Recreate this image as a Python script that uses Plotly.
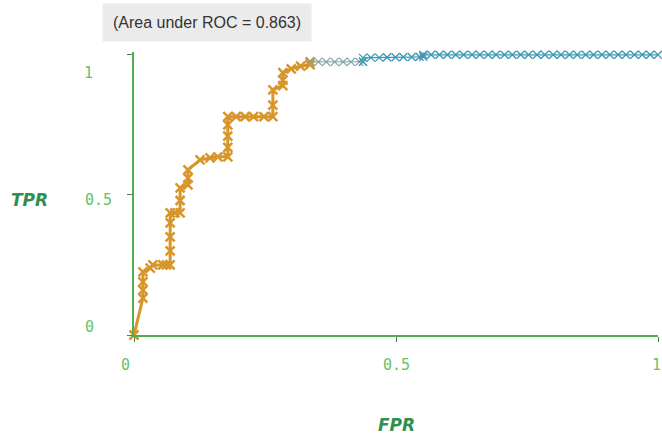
import plotly.graph_objects as go

# ROC points
fpr_low = [0, 0.017, 0.017, 0.017, 0.017, 0.031, 0.036, 0.055, 0.062, 0.069, 0.069, 0.069, 0.069,
           0.069, 0.078, 0.088, 0.088, 0.088, 0.103, 0.103, 0.103, 0.126, 0.145, 0.160, 0.179,
           0.179, 0.179, 0.179, 0.179, 0.195, 0.212, 0.228, 0.248, 0.265, 0.265, 0.265, 0.284,
           0.284, 0.284, 0.300, 0.318, 0.336, 0.336]
tpr_low = [0, 0.132, 0.16, 0.19, 0.225, 0.239, 0.25, 0.25, 0.25, 0.25, 0.30, 0.35, 0.40,
           0.436, 0.436, 0.436, 0.48, 0.525, 0.536, 0.56, 0.589, 0.625, 0.632, 0.636, 0.636,
           0.67, 0.71, 0.75, 0.779, 0.779, 0.779, 0.779, 0.779, 0.779, 0.82, 0.875, 0.89,
           0.91, 0.936, 0.95, 0.96, 0.965, 0.975]

fpr_mid = [0.336, 0.352, 0.367, 0.383, 0.399, 0.414, 0.430, 0.437]
tpr_mid = [0.975, 0.975, 0.975, 0.975, 0.975, 0.975, 0.975, 0.975]

fpr_high = [0.437, 0.437, 0.452, 0.468, 0.483, 0.499, 0.514, 0.530, 0.545, 0.552, 0.552,
            0.567, 0.583, 0.598, 0.614, 0.629, 0.645, 0.660, 0.676, 0.691, 0.707, 0.722,
            0.738, 0.753, 0.769, 0.784, 0.800, 0.815, 0.831, 0.846, 0.862, 0.877, 0.893,
            0.908, 0.924, 0.939, 0.955, 0.970, 0.985, 1.0]
tpr_high = [0.975, 0.989, 0.990, 0.990, 0.991, 0.991, 0.992, 0.992, 0.993, 0.993, 1.0,
            1.0, 1.0, 1.0, 1.0, 1.0, 1.0, 1.0, 1.0, 1.0, 1.0, 1.0,
            1.0, 1.0, 1.0, 1.0, 1.0, 1.0, 1.0, 1.0, 1.0, 1.0, 1.0,
            1.0, 1.0, 1.0, 1.0, 1.0, 1.0, 1.0]

x_ticks = [0, 0.5, 1]
x_ticktext = ["0", "0.5", "1"]
y_ticks = [0, 0.5, 1]
y_ticktext = ["0", "0.5", "1"]

title_text = "(Area under ROC = 0.863)"

ORANGE = "#d8962a"
GRAYTEAL = "#7fa2a4"
TEAL = "#3f97b3"
AXIS_GREEN = "#4fae4f"
LABEL_GREEN = "#66c266"
TITLE_GREEN = "#2f8f4f"

fig = go.Figure()
fig.add_trace(go.Scatter(x=fpr_low, y=tpr_low, mode="lines+markers",
                         line=dict(color=ORANGE, width=3),
                         marker=dict(symbol="x-thin", size=9, line=dict(color=ORANGE, width=2.5)),
                         cliponaxis=False, showlegend=False))
fig.add_trace(go.Scatter(x=fpr_mid, y=tpr_mid, mode="lines+markers",
                         line=dict(color=GRAYTEAL, width=1),
                         marker=dict(symbol="x-thin", size=8, line=dict(color=GRAYTEAL, width=1.2)),
                         cliponaxis=False, showlegend=False))
fig.add_trace(go.Scatter(x=fpr_high, y=tpr_high, mode="lines+markers",
                         line=dict(color=TEAL, width=1.2),
                         marker=dict(symbol="x-thin", size=8, line=dict(color=TEAL, width=1.3)),
                         cliponaxis=False, showlegend=False))

mono = dict(family="DejaVu Sans Mono", size=15, color=LABEL_GREEN)

# tick labels placed on the axis scales, nudged as in the original rendering
annotations = []
x_label_shift = [-9, 0, -2]
for v, t, s in zip(x_ticks, x_ticktext, x_label_shift):
    annotations.append(dict(text=t, xref="x", yref="paper", x=v, y=-0.106, xshift=s,
                            xanchor="center", yanchor="middle", showarrow=False, font=mono))
y_label_x = [89, 98, 88]
y_label_shift = [8, -5, -18]
for v, t, px, s in zip(y_ticks, y_ticktext, y_label_x, y_label_shift):
    annotations.append(dict(text=t, xref="paper", yref="y", x=(px - 134) / 524, y=v, yshift=s,
                            xanchor="center", yanchor="middle", showarrow=False, font=mono))

annotations += [
    dict(text="<b><i>TPR</i></b>", xref="paper", yref="paper", x=-0.199, y=0.477,
         xanchor="center", yanchor="middle", showarrow=False,
         font=dict(family="DejaVu Sans", size=17, color=TITLE_GREEN)),
    dict(text="<b><i>FPR</i></b>", xref="paper", yref="paper", x=0.5, y=-0.318,
         xanchor="center", yanchor="middle", showarrow=False,
         font=dict(family="DejaVu Sans", size=17, color=TITLE_GREEN)),
    dict(text=title_text, xref="paper", yref="paper", x=0.139, y=1.105,
         xanchor="center", yanchor="middle", showarrow=False, bgcolor="#ebebeb",
         borderpad=10,
         font=dict(family="Liberation Sans", size=16, color="#333333")),
]

fig.update_layout(
    width=662, height=439,
    margin=dict(l=134, r=4, t=52, b=104),
    paper_bgcolor="white", plot_bgcolor="white",
    xaxis=dict(range=[0, 1], tickvals=x_ticks, showticklabels=False, showgrid=False,
               zeroline=False, showline=True, linecolor=AXIS_GREEN, linewidth=2,
               ticks="outside", ticklen=5, tickcolor="#557755"),
    yaxis=dict(range=[0, 1.01], tickvals=y_ticks, showticklabels=False, showgrid=False,
               zeroline=False, showline=True, linecolor=AXIS_GREEN, linewidth=2,
               ticks="outside", ticklen=5, tickcolor="#557755"),
    annotations=annotations,
)

fig.write_html("out.html", config={"displayModeBar": False},
               post_script="document.body.style.margin='0px';")
